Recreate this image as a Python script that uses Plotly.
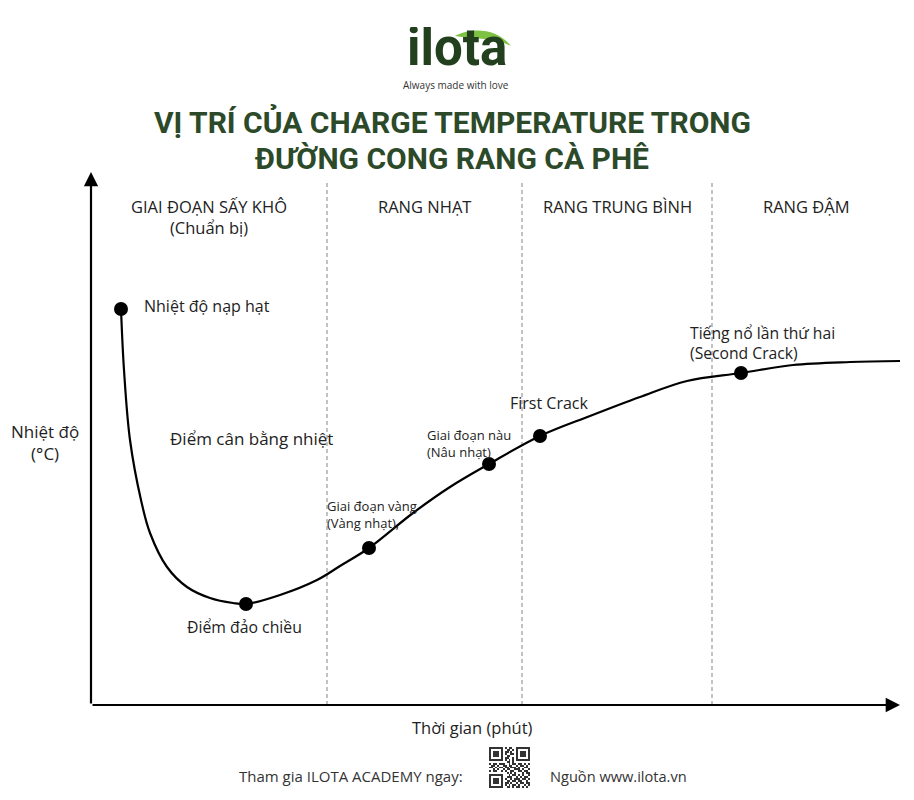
import plotly.graph_objects as go

# ---------------- data (arbitrary units: minutes / relative temperature) -------------
CURVE_TIME = [0.60, 0.66, 0.78, 1.00, 1.18, 1.52, 1.92, 2.38, 2.84, 3.10, 3.78, 4.52, 4.98, 5.56, 6.44, 7.18,
              7.96, 8.98, 9.98, 10.98, 11.92, 13.00, 14.04, 15.18, 16.18]
CURVE_TEMP = [198.0, 167.5, 132.5, 102.5, 86.0, 69.0, 59.0, 53.5, 51.0, 50.5, 55.0, 62.5, 69.5, 78.5, 96.0, 109.0,
              120.5, 134.5, 144.5, 154.0, 162.0, 166.0, 170.0, 171.5, 172.0]

EVENT_NAMES = ["Nhiệt độ nạp hạt", "Điểm đảo chiều", "Giai đoạn vàng<br>(Vàng nhạt),",
               "Giai đoạn nàu<br>(Nâu nhạt)", "First Crack", "Tiếng nổ lần thứ hai<br>(Second Crack)"]
EVENT_TIME = [0.60, 3.10, 5.56, 7.96, 8.98, 13.00]
EVENT_TEMP = [198.0, 50.5, 78.5, 120.5, 134.5, 166.0]

PHASE_EDGES = [0.0, 4.72, 8.62, 12.42, 16.18]
PHASE_NAMES = ["GIAI ĐOẠN SẤY KHÔ<br>(Chuẩn bị)", "RANG NHẠT", "RANG TRUNG BÌNH", "RANG ĐẬM"]

AXIS_TOP_TEMP = 266.5

QR_ROWS = [
    "111111101011001111111",
    "100000100110101000001",
    "101110101101001011101",
    "101110101001101011101",
    "101110100110001011101",
    "100000101100101000001",
    "111111101010101111111",
    "000000000110100000000",
    "101101110010110110101",
    "011010011011001011010",
    "110101101101110100110",
    "001010010110011101001",
    "101100101001100110110",
    "000000000101010001011",
    "111111100010110101001",
    "100000100111001010110",
    "101110101001011101101",
    "101110100110110110010",
    "101110101101001011011",
    "100000101010110100101",
    "111111100110101101010",
]

# ---------------- layout helpers (page pixels; the page body has an 8px margin) -------------
OFF = 8
W, H = 914 - OFF, 800 - OFF
X0_PX, Y0_PX, PX_PER_MIN, PX_PER_DEG = 91 - OFF, 705 - OFF, 50, 2


def px(x):
    return (x - OFF) / W


def py(y):
    return 1 - (y - OFF) / H


x_range = [(0 - X0_PX) / PX_PER_MIN, (W - X0_PX) / PX_PER_MIN]
y_range = [(Y0_PX - H) / PX_PER_DEG, (Y0_PX - 0) / PX_PER_DEG]

BODY_FONT = "Open Sans"
TXT = "#222222"
GREEN_DARK = "#22401e"
GREEN_TITLE = "#2c4a29"

fig = go.Figure()

fig.add_trace(go.Scatter(x=CURVE_TIME, y=CURVE_TEMP, mode="lines",
                         line=dict(color="black", width=2.2, shape="spline", smoothing=1.0),
                         hoverinfo="skip", showlegend=False))
fig.add_trace(go.Scatter(x=EVENT_TIME, y=EVENT_TEMP, mode="markers",
                         marker=dict(color="black", size=14),
                         text=[n.replace("<br>", " ") for n in EVENT_NAMES],
                         hoverinfo="text", showlegend=False))

# QR code (decoration)
fig.add_trace(go.Heatmap(z=[[int(c) for c in r] for r in QR_ROWS],
                         colorscale=[[0, "white"], [1, "#333333"]], showscale=False,
                         hoverinfo="skip", xaxis="x2", yaxis="y2"))

shapes = []
for e in PHASE_EDGES[1:-1]:
    shapes.append(dict(type="line", xref="x", yref="paper", x0=e, x1=e, y0=py(705), y1=py(180),
                       line=dict(color="#9a9a9a", width=1.2, dash="4px,3px"), layer="below"))


# leaf swoosh of the logo
def P(x, y):
    return f"{px(x):.5f},{py(y):.5f}"


leaf = (f"M {P(455,36)} C {P(470,28)} {P(496,27)} {P(511,46)} "
        f"C {P(496,38)} {P(474,39)} {P(455,36)} Z")
shapes.append(dict(type="path", xref="paper", yref="paper", path=leaf,
                   fillcolor="#7dc243", line=dict(width=0)))

ann = []
# axes with arrows
ann.append(dict(x=0, y=AXIS_TOP_TEMP, ax=0, ay=0, xref="x", yref="y", axref="x", ayref="y",
                text="", showarrow=True, arrowhead=2, arrowsize=1.3, arrowwidth=2.2, arrowcolor="black"))
ann.append(dict(x=CURVE_TIME[-1], y=0, ax=0, ay=0, xref="x", yref="y", axref="x", ayref="y",
                text="", showarrow=True, arrowhead=2, arrowsize=1.3, arrowwidth=2.2, arrowcolor="black"))

# logo and title
ann.append(dict(x=px(457), y=py(47), xref="paper", yref="paper", text="<b>ilota</b>", showarrow=False,
                height=40, valign="middle",
                font=dict(family="Roboto", size=51, color=GREEN_DARK), xanchor="center", yanchor="middle"))
ann.append(dict(x=px(456), y=py(85), xref="paper", yref="paper", text="Always made with love", showarrow=False,
                font=dict(family="Open Sans", size=10, color="#333333"), xanchor="center", yanchor="middle"))
ann.append(dict(x=px(452), y=py(122), xref="paper", yref="paper",
                text="<b>VỊ TRÍ CỦA CHARGE TEMPERATURE TRONG</b>", showarrow=False,
                font=dict(family="Liberation Sans Narrow, Roboto", size=30, color=GREEN_TITLE),
                xanchor="center", yanchor="middle"))
ann.append(dict(x=px(452), y=py(158), xref="paper", yref="paper",
                text="<b>ĐƯỜNG CONG RANG CÀ PHÊ</b>", showarrow=False,
                font=dict(family="Liberation Sans Narrow, Roboto", size=30, color=GREEN_TITLE),
                xanchor="center", yanchor="middle"))

# phase labels
for i, name in enumerate(PHASE_NAMES):
    mid = (PHASE_EDGES[i] + PHASE_EDGES[i + 1]) / 2
    ann.append(dict(x=mid, y=py(193), xref="x", yref="paper", text=name, showarrow=False,
                    font=dict(family=BODY_FONT, size=16.5, color=TXT), xanchor="center", yanchor="top"))

# event labels (offsets in pixels)
offsets = [(21, 3, "left", 16), (-2, -23, "center", 15.8), (-44, 34, "left", 13),
           (-64, 21, "left", 13), (-32, 33, "left", 16), (-53, 30, "left", 15.7)]
for name, t, T, (dx, dy, anc, fs) in zip(EVENT_NAMES, EVENT_TIME, EVENT_TEMP, offsets):
    ann.append(dict(x=t, y=T, xref="x", yref="y", text=name, showarrow=False, xshift=dx, yshift=dy,
                    xanchor=anc, yanchor="middle", align="left",
                    font=dict(family=BODY_FONT, size=fs, color=TXT)))

ann.append(dict(x=px(168), y=py(438), xref="paper", yref="paper", text="Điểm cân bằng nhiệt", showarrow=False,
                xanchor="left", yanchor="middle", font=dict(family=BODY_FONT, size=17, color=TXT)))

# axis titles
ann.append(dict(x=px(45), y=py(442), xref="paper", yref="paper", text="Nhiệt độ<br>(°C)", showarrow=False,
                xanchor="center", yanchor="middle", font=dict(family=BODY_FONT, size=17, color=TXT)))
ann.append(dict(x=px(473), y=py(727), xref="paper", yref="paper", text="Thời gian (phút)", showarrow=False,
                xanchor="center", yanchor="middle", font=dict(family=BODY_FONT, size=16.5, color=TXT)))

# footer
ann.append(dict(x=px(465), y=py(776), xref="paper", yref="paper", text="Tham gia ILOTA ACADEMY ngay:",
                showarrow=False, xanchor="right", yanchor="middle",
                font=dict(family=BODY_FONT, size=15, color="#333333")))
ann.append(dict(x=px(548), y=py(776), xref="paper", yref="paper", text="Nguồn www.ilota.vn",
                showarrow=False, xanchor="left", yanchor="middle",
                font=dict(family=BODY_FONT, size=14.6, color="#333333")))

axis_off = dict(showgrid=False, zeroline=False, showticklabels=False, ticks="", showline=False)

fig.update_layout(
    width=W, height=H, margin=dict(l=0, r=0, t=0, b=0),
    paper_bgcolor="white", plot_bgcolor="white",
    xaxis=dict(range=x_range, domain=[0, 1], fixedrange=True, **axis_off),
    yaxis=dict(range=y_range, domain=[0, 1], fixedrange=True, **axis_off),
    xaxis2=dict(domain=[px(489), px(530)], anchor="y2", **axis_off),
    yaxis2=dict(domain=[py(788), py(747)], anchor="x2", autorange="reversed", **axis_off),
    shapes=shapes, annotations=ann, showlegend=False,
)

fig.write_html("out.html")
